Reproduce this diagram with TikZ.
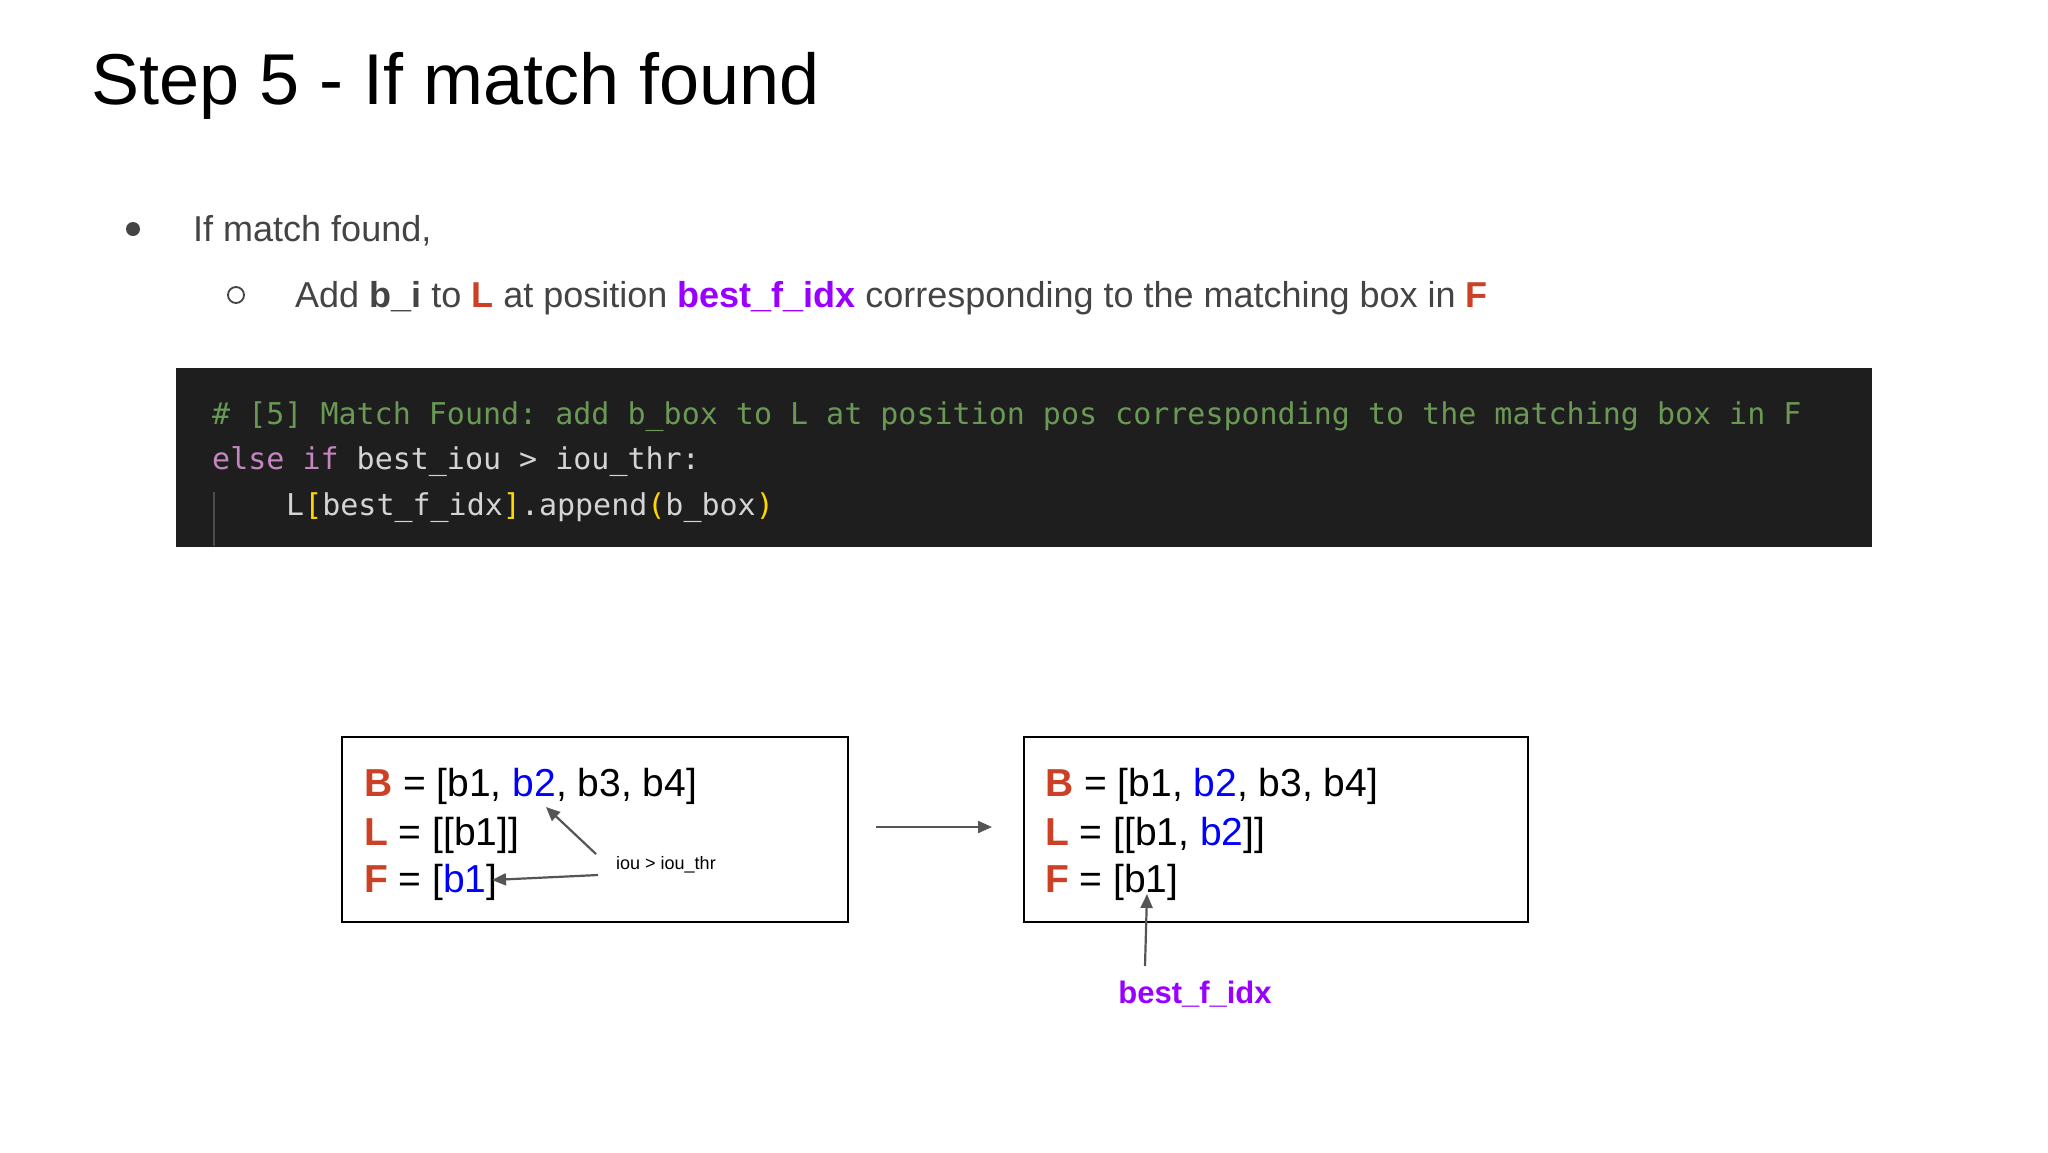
\documentclass[tikz,border=0pt]{standalone}
\usepackage{fontspec}
\setmainfont{Liberation Sans}
\setmonofont{DejaVu Sans Mono}
\usetikzlibrary{arrows.meta}
\definecolor{rd}{HTML}{CC4125}
\definecolor{bl}{HTML}{0000FF}
\definecolor{pu}{HTML}{9900FF}
\definecolor{codebg}{HTML}{1E1E1E}
\definecolor{cmt}{HTML}{6A9955}
\definecolor{kw}{HTML}{C586C0}
\definecolor{idn}{HTML}{D4D4D4}
\definecolor{brk}{HTML}{FFD700}
\definecolor{txt}{HTML}{444444}
\definecolor{arr}{HTML}{555555}
\newcommand{\fs}[1]{\fontsize{#1}{#1}\selectfont}
\begin{document}
\begin{tikzpicture}[x=1pt,y=-1pt,
  lbl/.style={anchor=base west,inner sep=0},
  codet/.style={anchor=base west,inner sep=0,font=\ttfamily\fs{30}},
  boxt/.style={anchor=base west,inner sep=0,font=\fs{39}},
  frame/.style={draw=black,line width=2pt},
  con/.style={draw=arr,line width=2.2pt,-{Triangle[length=14pt,width=12pt]}}]
\useasboundingbox[fill=white] (0,0) rectangle (2048,1152);
\node[lbl,font=\fs{72}] (title) at (91,104) {Step 5 - If match found};
\node[lbl,font=\fs{36},text=txt] (b1) at (193,241) {If match found,};
\fill[txt] (133,229) circle (7);
\node[lbl,font=\fs{36},text=txt] (b2) at (295,307) {Add \textbf{b\_i} to \textcolor{rd}{\textbf{L}} at position \textcolor{pu}{\textbf{best\_f\_idx}} corresponding to the matching box in \textcolor{rd}{\textbf{F}}};
\draw[txt,line width=1.8pt] (236,295) circle (8);
\fill[codebg] (176,368) rectangle (1872,547);
\draw[gray!60!black,line width=1.5pt] (214,492) -- (214,546);
\node[codet,text=cmt] (c1) at (212,424) {\# [5] Match Found: add b\_box to L at position pos corresponding to the matching box in F};
\node[codet,text=idn] (c2) at (212,469) {\textcolor{kw}{else if} best\_iou > iou\_thr:};
\node[codet,text=idn] (c3) at (286,515) {L\textcolor{brk}{[}best\_f\_idx\textcolor{brk}{]}.append\textcolor{brk}{(}b\_box\textcolor{brk}{)}};
\draw[frame] (342,737) rectangle (848,922);
\draw[frame] (1024,737) rectangle (1528,922);
\node[boxt] (lB) at (364,796) {\textcolor{rd}{\textbf{B}} = [b1, \textcolor{bl}{b2}, b3, b4]};
\node[boxt] (lL) at (364,845) {\textcolor{rd}{\textbf{L}} = [[b1]]};
\node[boxt] (lF) at (364,892) {\textcolor{rd}{\textbf{F}} = [\textcolor{bl}{b1}]};
\node[boxt] (rB) at (1045,796) {\textcolor{rd}{\textbf{B}} = [b1, \textcolor{bl}{b2}, b3, b4]};
\node[boxt] (rL) at (1045,845) {\textcolor{rd}{\textbf{L}} = [[b1, \textcolor{bl}{b2}]]};
\node[boxt] (rF) at (1045,892) {\textcolor{rd}{\textbf{F}} = [b1]};
\node[lbl,font=\fs{18}] (iou) at (616,869) {iou > iou\_thr};
\coordinate (a1s) at (596,854); \coordinate (a1e) at (546,807);
\coordinate (a2s) at (598,875); \coordinate (a2e) at (492,880);
\draw[con] (a1s) -- (a1e);
\draw[con] (a2s) -- (a2e);
\coordinate (ms) at (876,827); \coordinate (me) at (992,827);
\draw[con] (ms) -- (me);
\node[font=\bfseries\fs{31},text=pu,inner sep=0] (bfi) at (1195,994) {best\_f\_idx};
\coordinate (bs) at (1145,966); \coordinate (be) at (1147,894);
\draw[con] (bs) -- (be);
\end{tikzpicture}
\end{document}
